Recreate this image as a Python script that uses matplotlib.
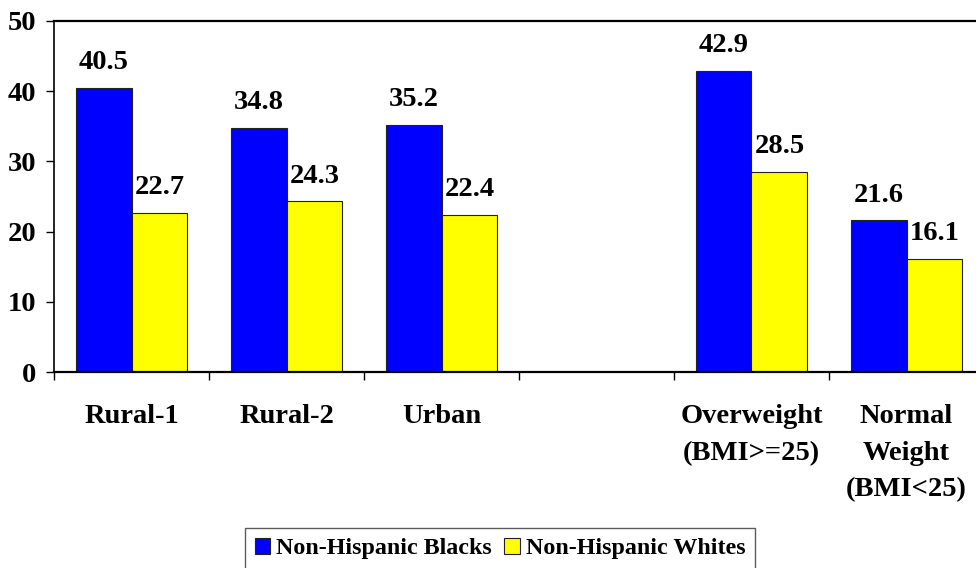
import numpy as np
import matplotlib
matplotlib.use("Agg")
import matplotlib.pyplot as plt

categories = ["Rural-1", "Rural-2", "Urban", "", "Overweight\n(BMI>=25)", "Normal\nWeight\n(BMI<25)"]
blacks = [40.5, 34.8, 35.2, None, 42.9, 21.6]
whites = [22.7, 24.3, 22.4, None, 28.5, 16.1]
series_names = ["Non-Hispanic Blacks", "Non-Hispanic Whites"]

plt.rcParams["font.family"] = ["Liberation Serif", "DejaVu Serif"]
plt.rcParams["font.weight"] = "bold"
FS = 20.5
LEG_FS = 17.3

fig = plt.figure(figsize=(9.76, 5.68), dpi=100)
ax = fig.add_axes([54 / 976, 1 - 372 / 568, 930 / 976, 351 / 568])

w = 0.36
handles = []
for k, (vals, color) in enumerate(zip([blacks, whites], ["#0000ff", "#ffff00"])):
    idx = [i for i, v in enumerate(vals) if v is not None]
    heights = [vals[i] for i in idx]
    xs = np.array(idx) + (k - 0.5) * w
    bars = ax.bar(xs, heights, width=w, color=color, edgecolor="#222222",
                  linewidth=0.8, label=series_names[k])
    handles.append(bars)
    for x, h in zip(xs, heights):
        ax.annotate(f"{h:.1f}", (x, h), xytext=(0, 9), textcoords="offset points",
                    ha="center", va="bottom", fontsize=FS, fontweight="bold")

ax.set_xlim(-0.5, len(categories) - 0.5)
ax.set_ylim(0, 50)
ax.set_yticks(range(0, 51, 10))
ax.tick_params(axis="y", direction="out", length=6, width=1, pad=7, labelsize=FS)

ax.set_xticks(range(len(categories)))
ax.set_xticklabels(categories)
ax.set_xticks(np.arange(-0.5, len(categories)), minor=True)
ax.tick_params(axis="x", which="major", length=0, pad=23, labelsize=FS)
ax.tick_params(axis="x", which="minor", direction="out", length=6, width=1)
for lab in ax.get_xticklabels():
    lab.set_linespacing(1.62)

for side in ["top", "bottom"]:
    ax.spines[side].set_linewidth(1.6)
ax.spines["left"].set_linewidth(1.2)
ax.spines["right"].set_visible(False)

leg = fig.legend(handles=handles, loc="upper center", bbox_to_anchor=(500 / 976, 1 - 528 / 568),
                 ncol=2, fontsize=LEG_FS, frameon=True, fancybox=False, shadow=False,
                 handlelength=0.65, handleheight=0.65, handletextpad=0.25,
                 columnspacing=0.5, borderpad=0.4, borderaxespad=0)
leg.get_frame().set_edgecolor("#333333")
leg.get_frame().set_linewidth(1.0)

fig.savefig("out.png", dpi=100)
